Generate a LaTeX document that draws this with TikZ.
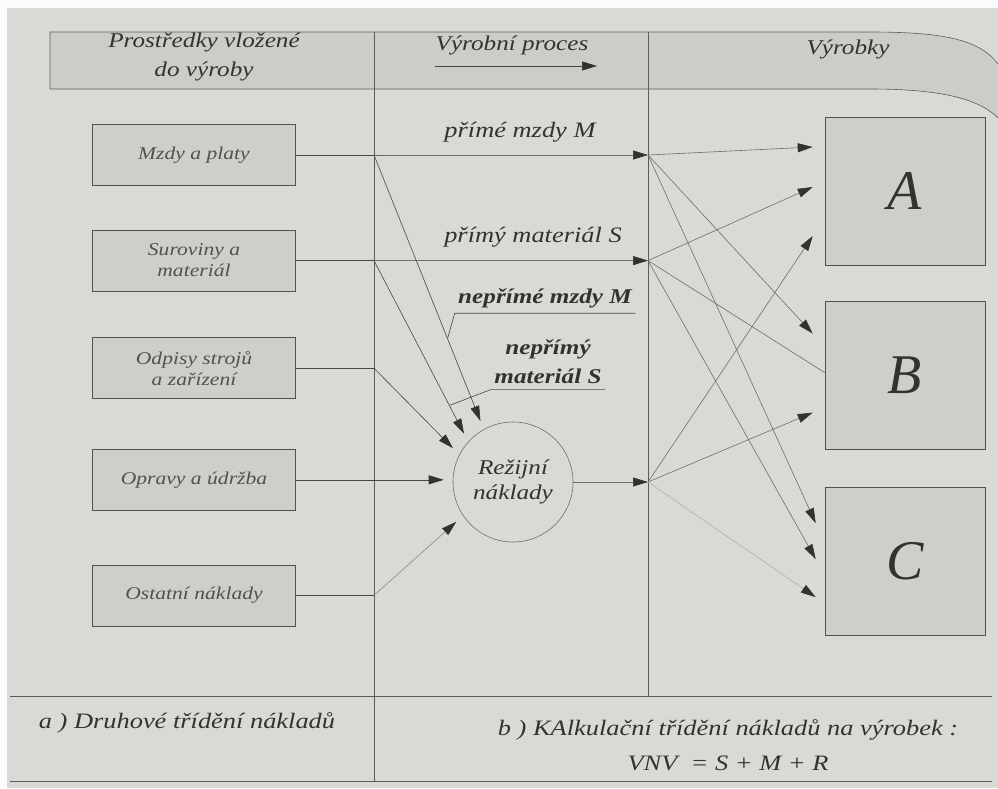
\documentclass[tikz,border=0pt]{standalone}
\usepackage{fontspec}
\setmainfont{Liberation Serif}[FakeStretch=1.2]
\newfontfamily\letterfont{Liberation Serif}
\usetikzlibrary{positioning,calc,arrows.meta}
\definecolor{paper}{RGB}{215,218,213}
\definecolor{band}{RGB}{202,205,200}
\definecolor{boxfill}{RGB}{204,207,202}
\definecolor{ink}{RGB}{50,51,49}
\definecolor{softink}{RGB}{108,110,106}
\tikzset{
  rule/.style={draw=ink!80,line width=0.6pt},
  costbox/.style={draw=ink!85,fill=boxfill,line width=0.6pt,minimum width=203pt,minimum height=61pt,
    align=center,text=ink!85,font=\fontsize{18}{21}\selectfont\itshape},
  prodbox/.style={draw=ink!85,fill=boxfill,line width=0.6pt,minimum width=160pt,minimum height=148pt,
    text=ink,font=\letterfont\fontsize{56}{60}\selectfont\itshape},
  overhead/.style={circle,draw=softink,line width=0.6pt,minimum size=120pt,align=center,
    text=ink,font=\fontsize{21}{25}\selectfont\itshape},
  tip/.style={-{Triangle[length=15pt,width=9pt,color=ink,fill=ink]}},
  flow/.style={draw=ink!90,line width=0.6pt},
  inflow/.style={flow,tip,shorten >=9pt},
  outflow/.style={draw=softink,line width=0.6pt,tip},
  fadeflow/.style={outflow,draw=softink!55},
  lbl/.style={text=ink,align=center,font=\fontsize{22}{26}\selectfont\itshape},
  nlbl/.style={lbl,font=\fontsize{21}{29}\selectfont\bfseries\itshape},
  head/.style={text=ink,align=center,font=\fontsize{21}{29}\selectfont\itshape},
  foot/.style={text=ink,align=center,font=\fontsize{22}{35}\selectfont\itshape}
}
\begin{document}
\begin{tikzpicture}[x=1pt,y=-1pt]
  \useasboundingbox (0,0) rectangle (998,788);
  \fill[white!90!paper] (0,0) rectangle (998,788);
  \fill[paper] (7,8) rectangle (998,788);

  % header band and table rules
  \path[rule,fill=band] (998,64) .. controls (980,40) and (945,32) .. (870,32) -- (50,32) -- (50,89)
        -- (870,89) .. controls (945,89) and (980,100) .. (998,118);
  \coordinate (dl) at (374,32);
  \coordinate (dr) at (648,32);
  \draw[rule] (dl) -- (374,781);
  \draw[rule] (dr) -- (648,696);
  \draw[rule] (10,696) -- (992,696);
  \draw[rule] (10,781) -- (992,781);

  \node[head] (hl) at (204,57) {Prostředky vložené\\do výroby};
  \node[head] (hm) at (512,45) {Výrobní proces};
  \coordinate (hs) at (435,66);
  \coordinate (he) at (597,66);
  \draw[flow,tip] (hs) -- (he);
  \node[head] (hr) at (848,49) {Výrobky};

  \node[costbox] (mzdy) at (194,155) {Mzdy a platy};
  \node[costbox,below=44pt of mzdy] (surov) {Suroviny a\\materiál};
  \node[costbox,below=46pt of surov] (odpis) {Odpisy strojů\\a zařízení};
  \node[costbox,below=50pt of odpis] (oprav) {Opravy a údržba};
  \node[costbox,below=54pt of oprav] (ostat) {Ostatní náklady};

  \node[overhead] (rn) at (513,482) {Režijní\\náklady};

  \coordinate (jm) at (mzdy -| dl);
  \coordinate (js) at (surov -| dl);
  \coordinate (jo) at (odpis -| dl);
  \coordinate (jn) at (ostat -| dl);
  \coordinate (jmr) at (mzdy -| dr);
  \coordinate (jsr) at (surov -| dr);
  \coordinate (jr) at (rn -| dr);

  \draw[flow] (mzdy) -- (jm);
  \draw[outflow] (jm) -- (jmr);
  \draw[inflow] (jm) -- (rn.119);
  \draw[flow] (surov) -- (js);
  \draw[outflow] (js) -- (jsr);
  \draw[inflow] (js) -- (rn.138);
  \draw[flow] (odpis) -- (jo);
  \draw[inflow] (jo) -- (rn.153);
  \draw[inflow] (oprav) -- (oprav -| rn.west);
  \draw[flow] (ostat) -- (jn);
  \draw[inflow,draw=softink!80] (jn) -- (rn.214);
  \draw[outflow] (rn) -- (jr);

  \node[lbl] (pm) at (520,132) {přímé mzdy M};
  \node[lbl] (ps) at (533,237) {přímý materiál S};
  \node[nlbl] (nm) at (545,298) {nepřímé mzdy M};
  \node[nlbl] (ns) at (548,362) {nepřímý\\materiál S};
  \draw[flow] ([yshift=-2pt]nm.south east) -- ([yshift=-2pt]nm.south west) -- ($(jm)!0.67!(rn.119)$);
  \draw[flow] ([yshift=-2pt]ns.south east) -- ([yshift=-2pt]ns.south west) -- ($(js)!0.8!(rn.138)$);

  \node[prodbox] (pa) at (905,191) {A};
  \node[prodbox,below=36pt of pa] (pb) {B};
  \node[prodbox,below=37pt of pb] (pc) {C};

  \coordinate (ta1) at ($(pa.west)+(-12,-44)$);
  \coordinate (ta2) at ($(pa.west)+(-12,-4)$);
  \coordinate (ta3) at ($(pa.west)+(-12,45)$);
  \coordinate (tb1) at ($(pb.west)+(-12,-42)$);
  \coordinate (tb2) at ($(pb.west)+(0,-3)$);
  \coordinate (tb3) at ($(pb.west)+(-12,37)$);
  \coordinate (tc1) at ($(pc.west)+(-9,-38)$);
  \coordinate (tc2) at ($(pc.west)+(-9,-2)$);
  \coordinate (tc3) at ($(pc.west)+(-9,36)$);

  \path (jmr) edge[outflow] (ta1) edge[outflow] (tb1) edge[outflow] (tc1);
  \path (jsr) edge[outflow] (ta2) edge[draw=softink,line width=0.6pt] (tb2) edge[outflow] (tc2);
  \path (jr) edge[outflow] (ta3) edge[outflow] (tb3) edge[fadeflow] (tc3);

  \node[foot] (fa) at (187,723) {a ) Druhové třídění nákladů};
  \node[foot] (fb) at (728,745) {b ) KAlkulační třídění nákladů na výrobek :\\VNV~~= S + M + R};
\end{tikzpicture}
\end{document}
